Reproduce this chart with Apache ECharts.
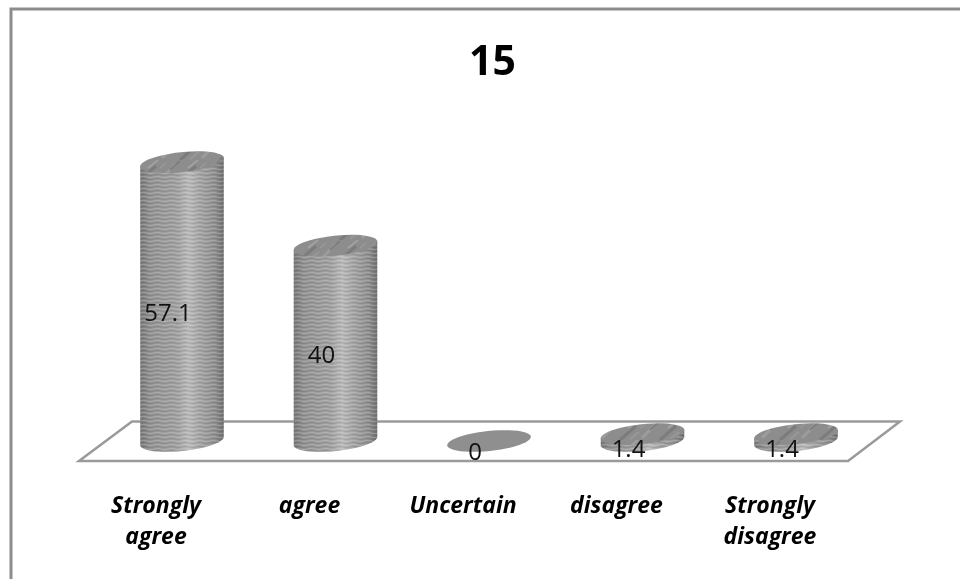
<!DOCTYPE html>
<html><head><meta charset="utf-8">
<style>html,body{margin:0;padding:0;background:#fff}#c{width:960px;height:579px}</style>
<script src="https://cdn.jsdelivr.net/npm/echarts@6/dist/echarts.min.js"></script>
</head><body><div id="c"></div>
<script>
const categories = ['Strongly\nagree', 'agree', 'Uncertain', 'disagree', 'Strongly\ndisagree'];
const values = [57.1, 40, 0, 1.4, 1.4];
const chartTitle = '15';

const chart = echarts.init(document.getElementById('c'), null, {renderer:'canvas'});

function makeWave(){
  const c = document.createElement('canvas'); c.width = 14; c.height = 4;
  const g = c.getContext('2d');
  g.lineWidth = 1;
  g.strokeStyle = 'rgba(230,230,230,0.3)';
  g.beginPath();
  g.moveTo(0, 1); g.quadraticCurveTo(3.5, -0.2, 7, 1); g.quadraticCurveTo(10.5, 2.2, 14, 1);
  g.stroke();
  g.strokeStyle = 'rgba(70,70,70,0.16)';
  g.beginPath();
  g.moveTo(0, 3); g.quadraticCurveTo(3.5, 1.8, 7, 3); g.quadraticCurveTo(10.5, 4.2, 14, 3);
  g.stroke();
  return c;
}
function makeMottle(){
  const c = document.createElement('canvas'); c.width = 40; c.height = 20;
  const g = c.getContext('2d');
  g.fillStyle = '#8d8d8d'; g.fillRect(0,0,40,20);
  const streak = (x1,y1,x2,y2,col,w)=>{g.strokeStyle=col;g.lineWidth=w;g.beginPath();g.moveTo(x1,y1);g.lineTo(x2,y2);g.stroke();};
  streak(2,18,16,4,'#9c9c9c',3); streak(20,20,36,6,'#7c7c7c',3);
  streak(10,10,20,1,'#7e7e7e',2); streak(28,8,38,0,'#a2a2a2',2);
  streak(0,8,6,3,'#969696',2);  streak(30,19,39,12,'#989898',2);
  return c;
}
const wave = makeWave(), mottle = makeMottle();

const RX = 42, RY = 10, ROT = -6 * Math.PI / 180;
const STEPS = 48;

function ellipsePt(cx, cy, t){
  const ex = RX*Math.cos(t), ey = RY*Math.sin(t);
  return [cx + ex*Math.cos(ROT) - ey*Math.sin(ROT), cy + ex*Math.sin(ROT) + ey*Math.cos(ROT)];
}
function ellipsePoints(cx, cy){
  const p = [];
  for (let i = 0; i < STEPS; i++) p.push(ellipsePt(cx, cy, i/STEPS*2*Math.PI));
  return p;
}
function bodyPoints(cx, top, bot){
  const p = [];
  for (let i = 0; i <= STEPS/2; i++) p.push(ellipsePt(cx, bot, i/(STEPS/2)*Math.PI));
  p.push(ellipsePt(cx, top, Math.PI));
  p.push(ellipsePt(cx, top, 0));
  return p;
}

function renderItem(params, api){
  const v = api.value(1);
  const top = api.coord([api.value(0), v]);
  const base = api.coord([api.value(0), 0]);
  const cx = base[0], by = base[1], ty = top[1];
  const kids = [];
  if (v > 0) {
    const pts = bodyPoints(cx, ty, by);
    const grad = new echarts.graphic.LinearGradient(0,0,1,0,[
      {offset:0,color:'#777777'},{offset:0.12,color:'#929292'},{offset:0.45,color:'#a2a2a2'},
      {offset:0.58,color:'#bcbcbc'},{offset:0.72,color:'#a4a4a4'},{offset:0.9,color:'#8e8e8e'},{offset:1,color:'#6e6e6e'}]);
    kids.push({type:'polygon',shape:{points:pts},style:{fill:grad,stroke:null}});
    kids.push({type:'polygon',shape:{points:pts},style:{fill:{image:wave,repeat:'repeat'},stroke:null}});
    kids.push({type:'polygon',shape:{points:ellipsePoints(cx,ty)},style:{fill:{image:mottle,repeat:'repeat'},stroke:null}});
  } else {
    kids.push({type:'polygon',shape:{points:ellipsePoints(cx,ty)},style:{fill:'#8f8f8f',stroke:null}});
  }
  kids.push({type:'text',style:{
    text:String(v), x:cx-14, y:(ty+by)/2+12.5, align:'center', verticalAlign:'middle',
    font:'24px "Open Sans", sans-serif', fill:'#111'}});
  return {type:'group',children:kids};
}

chart.setOption({
  animation:false,
  backgroundColor:'#ffffff',
  title:{text:chartTitle,left:464,top:38,
    textStyle:{fontFamily:'Open Sans, sans-serif',fontWeight:'bold',fontSize:41,color:'#000'}},
  grid:{left:105.25,width:767.5,top:148,height:293},
  xAxis:{type:'category',data:categories,
    axisLine:{show:false},axisTick:{show:false},
    axisLabel:{margin:50,lineHeight:31,padding:[0,52,0,0],
      fontFamily:'Open Sans, sans-serif',fontWeight:'bold',fontStyle:'italic',fontSize:23,color:'#000'}},
  yAxis:{type:'value',min:0,max:60,show:false,splitLine:{show:false}},
  graphic:{elements:[
    {type:'polyline',z:1,shape:{points:[[11,579],[11,9],[960,9]]},style:{stroke:'#8c8c8c',lineWidth:3,fill:null}},
    {type:'polygon',z:1,shape:{points:[[79,461],[848,461],[900,421.5],[132,421.5]]},
      style:{stroke:'#9a9a9a',lineWidth:2.5,fill:'#ffffff'}}
  ]},
  series:[{type:'custom',z:5,renderItem,clip:false,
    data:values.map((v,i)=>[i,v]),encode:{x:0,y:1}}]
});
</script></body></html>
